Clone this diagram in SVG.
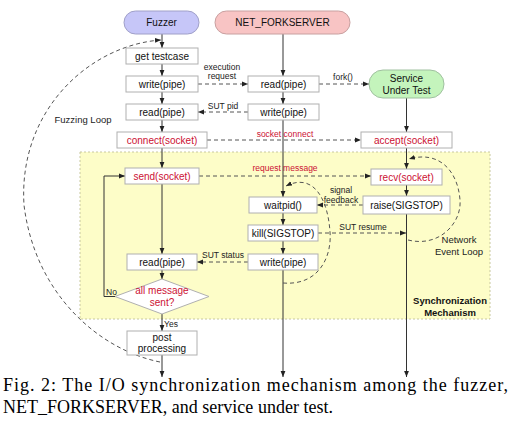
<svg xmlns="http://www.w3.org/2000/svg" width="512" height="424" viewBox="0 0 512 424">
<style>
.bx{fill:#fff;stroke:#b0b0b0;stroke-width:1}
.t{font-family:"Liberation Sans",Arial,sans-serif;font-size:10px;fill:#111;text-anchor:middle}
.lb{font-family:"Liberation Sans",Arial,sans-serif;font-size:8.5px;fill:#222;text-anchor:middle}
.ll{font-family:"Liberation Sans",Arial,sans-serif;font-size:9.5px;fill:#222;text-anchor:middle}
.t.r,.lb.r{fill:#cc1133}
.s{fill:none;stroke:#333;stroke-width:1}
.d{fill:none;stroke:#555;stroke-width:1;stroke-dasharray:4,3}
.cap{font-family:"Liberation Serif","Times New Roman",serif;font-size:18px;fill:#000}
</style>
<defs>
<marker id="a" viewBox="0 0 10 10" refX="10" refY="5" markerWidth="6" markerHeight="6" orient="auto" markerUnits="userSpaceOnUse"><path d="M0,1 L10,5 L0,9 z" fill="#222"/></marker>
</defs>
<rect width="512" height="424" fill="#fff"/>
<g id="sync-region">
<rect x="80" y="152" width="410" height="167" fill="#fdfdc8" stroke="#c8c8a0" stroke-width="1" stroke-dasharray="2,2"/>
<text class="t" x="450" y="304" style="font-weight:bold;font-size:9.5px">Synchronization</text>
<text class="t" x="450" y="315.5" style="font-weight:bold;font-size:9.5px">Mechanism</text>
</g>
<g id="connectors">
<line class="s" x1="162" y1="34" x2="162" y2="48" marker-end="url(#a)"/>
<line class="s" x1="162" y1="64" x2="162" y2="76" marker-end="url(#a)"/>
<line class="s" x1="162" y1="92" x2="162" y2="104" marker-end="url(#a)"/>
<line class="s" x1="162" y1="120" x2="162" y2="132" marker-end="url(#a)"/>
<line class="s" x1="162" y1="148" x2="162" y2="168" marker-end="url(#a)"/>
<line class="s" x1="162" y1="184" x2="162" y2="254" marker-end="url(#a)"/>
<line class="s" x1="162" y1="270" x2="162" y2="279" marker-end="url(#a)"/>
<line class="s" x1="162" y1="314" x2="162" y2="331" marker-end="url(#a)"/>
<line class="s" x1="162" y1="355" x2="162" y2="377" marker-end="url(#a)"/>
<polyline class="s" points="115,296.5 104,296.5 104,176 125,176" marker-end="url(#a)"/>
<line class="s" x1="283" y1="34" x2="283" y2="76" marker-end="url(#a)"/>
<line class="s" x1="283" y1="92" x2="283" y2="104" marker-end="url(#a)"/>
<line class="s" x1="283" y1="120" x2="283" y2="197" marker-end="url(#a)"/>
<line class="s" x1="283" y1="213" x2="283" y2="225" marker-end="url(#a)"/>
<line class="s" x1="283" y1="241" x2="283" y2="254" marker-end="url(#a)"/>
<line class="s" x1="283" y1="270" x2="283" y2="377" marker-end="url(#a)"/>
<line class="s" x1="406.5" y1="98" x2="406.5" y2="132" marker-end="url(#a)"/>
<line class="s" x1="406.5" y1="148" x2="406.5" y2="169" marker-end="url(#a)"/>
<line class="s" x1="406.5" y1="185" x2="406.5" y2="196" marker-end="url(#a)"/>
<line class="s" x1="406.5" y1="214" x2="406.5" y2="377" marker-end="url(#a)"/>
<line class="d" x1="198" y1="84" x2="248" y2="84" marker-end="url(#a)"/>
<line class="d" x1="248" y1="112" x2="198" y2="112" marker-end="url(#a)"/>
<line class="d" x1="319" y1="84" x2="369" y2="84" marker-end="url(#a)"/>
<line class="d" x1="207" y1="140" x2="361" y2="140" marker-end="url(#a)"/>
<line class="d" x1="199" y1="176" x2="371" y2="176" marker-end="url(#a)"/>
<line class="d" x1="363" y1="205" x2="317" y2="205" marker-end="url(#a)"/>
<line class="d" x1="318" y1="233" x2="406" y2="233" marker-end="url(#a)"/>
<line class="d" x1="248" y1="262" x2="197" y2="262" marker-end="url(#a)"/>
<path class="d" d="M160,362 C100,350 35,295 24,205 C18,110 90,45 161,40" marker-end="url(#a)"/>
<path class="d" d="M283,283 C320,286 332,255 330,232 C328,200 314,172 286,186" marker-end="url(#a)"/>
<path class="d" d="M408,240 C440,248 462,222 460,200 C458,172 440,150 409,159" marker-end="url(#a)"/>
<text class="lb" x="222" y="69.5">execution</text>
<text class="lb" x="222" y="79">request</text>
<text class="lb" x="223" y="109">SUT pid</text>
<text class="lb" x="343" y="80">fork()</text>
<text class="lb r" x="285" y="137">socket connect</text>
<text class="lb r" x="285" y="171">request message</text>
<text class="lb" x="341" y="193">signal</text>
<text class="lb" x="341" y="203">feedback</text>
<text class="lb" x="363" y="230">SUT resume</text>
<text class="lb" x="223" y="258">SUT status</text>
<text class="lb" x="111.5" y="295">No</text>
<text class="lb" x="171" y="327">Yes</text>
<text class="ll" x="83" y="122.5">Fuzzing Loop</text>
<text class="ll" x="459" y="243">Network</text>
<text class="ll" x="459" y="255">Event Loop</text>
</g>
<g id="fuzzer"><rect x="124" y="11" width="75" height="23" rx="11.5" fill="#c6c6f8" stroke="#a0a0c8"/><text class="t" x="161.5" y="26">Fuzzer</text></g>
<g id="net-forkserver"><rect x="215" y="11" width="135" height="23" rx="11.5" fill="#f8c4c4" stroke="#c8a0a0"/><text class="t" x="282.5" y="26">NET_FORKSERVER</text></g>
<g id="sut"><rect x="369" y="70" width="75" height="28" rx="14" fill="#c4f4bc" stroke="#a0c0a0"/><text class="t" x="406.5" y="81.5">Service</text><text class="t" x="406.5" y="93.5">Under Test</text></g>
<g id="get-testcase"><rect class="bx" x="126" y="48" width="72" height="16"/><text class="t" x="162" y="59.5">get testcase</text></g>
<g id="f-write-pipe"><rect class="bx" x="126" y="76" width="72" height="16"/><text class="t" x="162" y="87.5">write(pipe)</text></g>
<g id="f-read-pipe"><rect class="bx" x="126" y="104" width="72" height="16"/><text class="t" x="162" y="115.5">read(pipe)</text></g>
<g id="connect"><rect class="bx" x="117" y="132" width="90" height="16"/><text class="t r" x="162" y="143.5">connect(socket)</text></g>
<g id="send"><rect class="bx" x="125" y="168" width="74" height="16"/><text class="t r" x="162" y="179.5">send(socket)</text></g>
<g id="f-read-pipe-2"><rect class="bx" x="127" y="254" width="70" height="16"/><text class="t" x="162" y="265.5">read(pipe)</text></g>
<g id="all-sent"><polygon points="162,279 209,296.5 162,314 115,296.5" fill="#fff" stroke="#b0b0b0"/><text class="t r" x="162" y="294">all message</text><text class="t r" x="162" y="306">sent?</text></g>
<g id="post"><rect class="bx" x="127" y="331" width="70" height="24"/><text class="t" x="162" y="341">post</text><text class="t" x="162" y="352">processing</text></g>
<g id="n-read-pipe"><rect class="bx" x="248" y="76" width="71" height="16"/><text class="t" x="283.5" y="87.5">read(pipe)</text></g>
<g id="n-write-pipe"><rect class="bx" x="248" y="104" width="71" height="16"/><text class="t" x="283.5" y="115.5">write(pipe)</text></g>
<g id="waitpid"><rect class="bx" x="249" y="197" width="68" height="16"/><text class="t" x="283" y="208.5">waitpid()</text></g>
<g id="kill"><rect class="bx" x="248" y="225" width="70" height="16"/><text class="t" x="283" y="236.5">kill(SIGSTOP)</text></g>
<g id="n-write-pipe-2"><rect class="bx" x="248" y="254" width="70" height="16"/><text class="t" x="283" y="265.5">write(pipe)</text></g>
<g id="accept"><rect class="bx" x="361" y="132" width="91" height="16"/><text class="t r" x="406.5" y="143.5">accept(socket)</text></g>
<g id="recv"><rect class="bx" x="371" y="169" width="71" height="16"/><text class="t r" x="406.5" y="180.5">recv(socket)</text></g>
<g id="raise"><rect class="bx" x="363" y="196" width="87" height="18"/><text class="t" x="406.5" y="208.5">raise(SIGSTOP)</text></g>
<g id="caption">
<text class="cap" x="3" y="391" textLength="505" lengthAdjust="spacing">Fig. 2: The I/O synchronization mechanism among the fuzzer,</text>
<text class="cap" x="3" y="412.5" textLength="330" lengthAdjust="spacing">NET_FORKSERVER, and service under test.</text>
</g>
</svg>
